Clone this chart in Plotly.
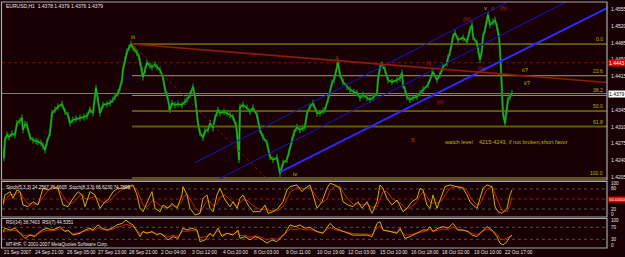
import plotly.graph_objects as go

W, H = 625, 257

# ---------------- DATA ----------------
# price (bar index, price)
px_idx = [0,1,2,4,6,9,12,14,17,19,20,22,24,27,30,33,35,38,40,42,44,47,49,52,55,59,62,65,67,70,73,77,81,84,87,90,93,95,97,100,104,107,110,112,115,117,119,120,122,124,126,128,130,132,134,136,137,139,140,142,144,147,149,152,154,157,160,162,164,166,167,169,172,175,179,182,184,187,190,192,194,195,197,200,202,205,207,210,212,214,215,217,221,224,227,230,233,234,236,237,240,244,247,250,254,257,260,264,267,270,274,277,280,284,286,289,291,294,297,300,302,304,307,310,314,317,320,322,325,329,331,334,335,337,340,344,347,351,354,357,360,364,367,370,374,375,377,379,382,385,389,394,397,399,400,402,404,407,410,414,417,420,425,429,430,434,437,440,444,445,447,450,452,455,460,464,467,469,470,474,475,477,479,480,482,484,485,487,490,492,494,495,496,497,498,499,500,502,504,505,507,509]
px_val = [1.4261,1.4245,1.4282,1.4293,1.4288,1.4295,1.4293,1.4317,1.4322,1.4328,1.4303,1.4315,1.4313,1.4288,1.4282,1.4280,1.4278,1.4276,1.4270,1.4261,1.4278,1.4297,1.4338,1.4345,1.4351,1.4357,1.4341,1.4334,1.4317,1.4324,1.4326,1.4328,1.4330,1.4332,1.4345,1.4338,1.4391,1.4366,1.4338,1.4355,1.4357,1.4359,1.4366,1.4372,1.4380,1.4391,1.4407,1.4428,1.4449,1.4466,1.4474,1.4482,1.4474,1.4470,1.4464,1.4455,1.4445,1.4428,1.4413,1.4428,1.4443,1.4437,1.4434,1.4439,1.4434,1.4428,1.4413,1.4387,1.4376,1.4349,1.4345,1.4359,1.4355,1.4357,1.4355,1.4362,1.4366,1.4376,1.4393,1.4372,1.4338,1.4317,1.4297,1.4287,1.4301,1.4303,1.4317,1.4307,1.4328,1.4338,1.4345,1.4338,1.4341,1.4338,1.4334,1.4330,1.4313,1.4297,1.4241,1.4351,1.4355,1.4349,1.4341,1.4349,1.4334,1.4303,1.4288,1.4276,1.4247,1.4241,1.4245,1.4212,1.4234,1.4241,1.4257,1.4282,1.4297,1.4309,1.4303,1.4307,1.4309,1.4338,1.4351,1.4359,1.4338,1.4338,1.4343,1.4345,1.4366,1.4401,1.4407,1.4437,1.4443,1.4418,1.4403,1.4393,1.4387,1.4382,1.4380,1.4370,1.4376,1.4370,1.4366,1.4370,1.4380,1.4407,1.4434,1.4439,1.4428,1.4407,1.4403,1.4407,1.4411,1.4422,1.4397,1.4387,1.4372,1.4366,1.4370,1.4372,1.4380,1.4387,1.4397,1.4422,1.4424,1.4407,1.4418,1.4434,1.4443,1.4453,1.4464,1.4497,1.4505,1.4491,1.4495,1.4487,1.4512,1.4522,1.4497,1.4484,1.4470,1.4449,1.4470,1.4497,1.4512,1.4532,1.4543,1.4522,1.4528,1.4532,1.4518,1.4507,1.4497,1.4470,1.4434,1.4393,1.4338,1.4317,1.4345,1.4366,1.4372,1.4380]

# oscillators (bar index, value)
st_idx = [-1,2,7,10,14,17,20,25,30,35,40,45,50,55,60,65,70,75,79,82,87,92,97,102,105,110,115,120,125,130,134,137,140,144,149,152,157,160,165,169,174,179,180,184,187,192,197,200,204,207,210,214,217,222,227,230,234,237,240,245,250,257,262,265,270,275,280,284,287,294,299,302,307,314,319,324,327,332,337,340,345,350,355,359,364,369,374,377,380,384,389,394,397,400,404,409,414,417,420,424,427,430,434,439,442,447,454,460,464,467,470,474,477,480,484,489,492,495,499,504,507,509]
st_main = [22,62,72,52,77,72,32,27,42,32,82,77,87,82,32,27,52,72,62,27,72,62,22,42,47,72,82,82,87,92,62,22,12,37,72,22,12,32,22,37,22,62,87,62,22,2,7,52,62,22,12,62,82,47,27,42,22,52,62,32,12,12,32,7,12,22,42,77,87,92,72,82,92,22,42,82,97,92,82,42,32,27,42,22,42,7,42,92,82,52,32,47,27,12,22,42,52,82,77,32,22,62,22,62,87,92,87,82,62,42,32,22,52,82,92,87,27,12,7,22,62,77]
st_sig = [30,45,65,62,67,72,55,35,35,35,55,75,82,83,60,38,38,55,65,50,52,58,45,38,40,55,70,80,84,88,78,55,32,25,45,42,30,25,25,30,28,42,55,65,50,25,10,25,45,42,30,35,55,62,45,38,30,38,48,45,30,18,20,17,14,15,28,50,70,85,82,80,85,55,38,50,75,88,88,70,50,35,35,32,35,25,28,50,72,72,52,42,38,28,20,28,42,60,72,58,40,38,38,45,62,82,88,85,75,58,45,32,35,55,78,88,65,40,15,12,32,55]

rsi_idx = [-1,2,7,12,17,22,27,32,35,39,44,49,54,57,62,65,70,77,82,87,90,95,99,104,109,114,119,123,127,130,134,137,140,144,149,154,157,162,165,170,175,180,184,189,194,197,202,207,210,215,219,224,230,235,237,242,247,252,257,264,269,274,279,282,287,292,297,302,307,314,320,327,332,337,344,350,357,364,369,374,377,380,387,394,397,402,407,414,420,424,427,430,435,440,445,450,455,460,465,469,474,479,484,489,494,497,500,504,507,509]
rsi7 = [50,67,61,67,50,33,44,39,50,61,67,61,67,72,56,61,44,50,61,67,61,78,67,61,67,78,83,94,83,78,56,39,56,50,56,44,50,39,28,39,33,67,61,67,61,22,28,50,39,67,39,50,44,61,33,39,28,39,33,17,28,22,39,50,78,72,78,67,70,56,50,83,67,61,50,44,44,44,39,83,89,61,56,50,67,33,39,50,61,61,72,56,67,72,67,83,61,61,56,44,39,56,72,61,39,17,11,22,39,44]
rsi14 = [50,58,58,60,52,42,45,43,48,55,60,58,62,65,57,58,48,52,57,62,58,68,63,60,63,70,74,80,76,72,60,48,55,52,54,47,50,44,38,43,40,58,56,60,57,35,38,48,44,58,45,50,47,56,42,43,37,42,38,28,34,30,40,47,64,62,66,61,63,55,52,70,62,59,53,49,48,48,45,68,74,60,57,53,61,44,45,51,57,58,64,56,61,64,62,72,61,60,56,49,46,54,64,60,47,32,28,34,40,42]

# levels / drawn objects
fib_names = ["0.0", "23.6", "38.2", "50.0", "61.8", "100.0"]
fib_prices = [1.4482, 1.4416, 1.4375, 1.43425, 1.4310, 1.4203]
fib_start = 129
bid_price = 1.4379
alert_price = 1.4443
trend_idx = [129, 604]
trend_price = [1.4482, 1.4402]
zig_idx = [129, 265]
zig_price = [1.4482, 1.4199]
thick_idx = [277, 604]
thick_price = [1.42154, 1.45570]
thin1_idx = [192, 504]
thin1_price = [1.42347, 1.45689]
thin2_idx = [214, 563]
thin2_price = [1.41987, 1.45695]

price_ticks = [1.4555, 1.4520, 1.4485, 1.4450, 1.4415, 1.4345, 1.4310, 1.4275, 1.4240, 1.4205]
time_labels = ["21 Sep 2007", "24 Sep 21:00", "26 Sep 05:00", "27 Sep 13:00", "28 Sep 21:00",
               "2 Oct 04:00", "3 Oct 12:00", "4 Oct 20:00", "8 Oct 03:00", "9 Oct 11:00",
               "10 Oct 19:00", "12 Oct 03:00", "15 Oct 10:00", "16 Oct 18:00", "18 Oct 02:00",
               "19 Oct 10:00", "22 Oct 17:00"]
time_label_px = [2, 33.3, 64.6, 95.9, 127.2, 158.5, 189.8, 221.1, 252.4, 283.7, 315,
                 346.3, 377.6, 408.9, 440.2, 471.5, 502.8]

wave_labels = [("iii", 130, 1.4497, "olive"), ("iv", 292, 1.4211, "olive"),
               ("A", 334, 1.4453, "red"), ("B", 410, 1.4282, "red"),
               ("(i)", 425, 1.4443, "red"), ("(ii)", 437, 1.4361, "red"),
               ("(iii)", 464, 1.4534, "red"), ("(iv)", 479, 1.4432, "red"),
               ("v", 482, 1.4557, "olive"), ("c", 489, 1.4557, "red"), ("(b)", 500, 1.4557, "red"),
               ("ii?", 522, 1.4428, "olive"), ("ii?", 524, 1.4401, "olive")]

# ---------------- STYLE ----------------
BG = "#190005"
OLIVE = "#a8a800"
OLIVE_TXT = "#b8b800"
REDTXT = "#b42a14"
FONT = "Liberation Sans"
def py(p):  # pixel y -> paper
    return 1 - p / H
def pxp(p):
    return p / W

fig = go.Figure()

# price (bar-like: whiskers + line)
fig.add_trace(go.Scatter(x=px_idx, y=px_val, mode="lines", line=dict(color="#0e800e", width=2.2),
                         error_y=dict(type="constant", value=0.0007, thickness=1.3, width=0, color="#0e8a0e"),
                         yaxis="y", hoverinfo="skip"))
fig.add_trace(go.Scatter(x=px_idx, y=px_val, mode="lines", line=dict(color="#22b822", width=1),
                         yaxis="y", hoverinfo="skip"))

# stochastics
fig.add_trace(go.Scatter(x=st_idx, y=st_sig, mode="lines", line=dict(color="#c81e0a", width=1),
                         yaxis="y2", hoverinfo="skip"))
fig.add_trace(go.Scatter(x=st_idx, y=st_main, mode="lines", line=dict(color="#c8b400", width=1),
                         yaxis="y2", hoverinfo="skip"))
# RSI
fig.add_trace(go.Scatter(x=rsi_idx, y=rsi14, mode="lines", line=dict(color="#c81e0a", width=1),
                         yaxis="y3", hoverinfo="skip"))
fig.add_trace(go.Scatter(x=rsi_idx, y=rsi7, mode="lines", line=dict(color="#c8b400", width=1),
                         yaxis="y3", hoverinfo="skip"))

# channel / trend lines
fig.add_trace(go.Scatter(x=thin1_idx, y=thin1_price, mode="lines", line=dict(color="#1414c8", width=1), yaxis="y", hoverinfo="skip"))
fig.add_trace(go.Scatter(x=thin2_idx, y=thin2_price, mode="lines", line=dict(color="#1414c8", width=1), yaxis="y", hoverinfo="skip"))
fig.add_trace(go.Scatter(x=thick_idx, y=thick_price, mode="lines", line=dict(color="#2a2aff", width=2), yaxis="y", hoverinfo="skip"))
fig.add_trace(go.Scatter(x=trend_idx, y=trend_price, mode="lines", line=dict(color="#8c1c08", width=1.6), yaxis="y", hoverinfo="skip"))
fig.add_trace(go.Scatter(x=zig_idx, y=zig_price, mode="lines", line=dict(color="#7a1206", width=1, dash="dot"), yaxis="y", hoverinfo="skip"))

shapes = []
# fib lines
for name, p in zip(fib_names, fib_prices):
    col = "#5e5e00" if name == "61.8" else OLIVE
    wid = 2 if name == "61.8" else 1
    shapes.append(dict(type="line", xref="x", yref="y", x0=fib_start, x1=604, y0=p, y1=p,
                       line=dict(color=col, width=wid), layer="below"))
# bid & alert lines
shapes.append(dict(type="line", xref="paper", yref="y", x0=pxp(2), x1=pxp(607), y0=bid_price, y1=bid_price,
                   line=dict(color="#7a7a7a", width=1), layer="below"))
shapes.append(dict(type="line", xref="paper", yref="y", x0=pxp(2), x1=pxp(607), y0=alert_price, y1=alert_price,
                   line=dict(color="#7c1010", width=1, dash="dot"), layer="below"))
# oscillator levels
for v, c in [(80, "#505050"), (50, "#a01010"), (20, "#505050")]:
    shapes.append(dict(type="line", xref="paper", yref="y2", x0=pxp(2), x1=pxp(607), y0=v, y1=v,
                       line=dict(color=c, width=1, dash="dot"), layer="below"))
for v in [70, 30]:
    shapes.append(dict(type="line", xref="paper", yref="y3", x0=pxp(2), x1=pxp(607), y0=v, y1=v,
                       line=dict(color="#505050", width=1, dash="dot"), layer="below"))
# panel frames
for top, bot in [(2, 180), (181.5, 217), (218.5, 248)]:
    shapes.append(dict(type="rect", xref="paper", yref="paper", x0=pxp(1.5), x1=pxp(607),
                       y0=py(bot), y1=py(top), line=dict(color="#a8a8a8", width=1.2)))

ann = []
def txt(x, y, s, color="#e6e6e6", size=5, xref="paper", yref="paper", xanchor="left", **kw):
    ann.append(dict(x=x, y=y, xref=xref, yref=yref, text=s, showarrow=False, xanchor=xanchor,
                    yanchor="middle", font=dict(family=FONT, size=size, color=color), **kw))

# price scale labels
for p in price_ticks:
    txt(pxp(609), p, f"{p:.4f}", yref="y")
txt(pxp(608), bid_price, "1.4379", color="#000000", yref="y", bgcolor="#ffffff", borderpad=0)
txt(pxp(608), alert_price, "1.4443", color="#ffffff", yref="y", bgcolor="#e00000", borderpad=0)
# fib labels
for name, p in zip(fib_names, fib_prices):
    ann.append(dict(x=602, y=p, xref="x", yref="y", text=name, showarrow=False, xanchor="right",
                    yanchor="bottom", font=dict(family=FONT, size=5, color=OLIVE_TXT)))
# oscillator scales
for v, s in [(96, "100"), (80, "80"), (20, "20"), (4, "0")]:
    txt(pxp(609), v, s, yref="y2", size=4.6)
txt(pxp(607.5), 50, "50.0000", color="#ffffff", yref="y2", bgcolor="#e00000", borderpad=0, size=4.4)
for v, s in [(92, "100"), (70, "70"), (30, "30"), (9, "0")]:
    txt(pxp(609), v, s, yref="y3", size=4.6)

# headers
txt(pxp(4), py(5.5), "EURUSD,H1  1.4378 1.4379 1.4376 1.4379", size=5)
txt(pxp(4), py(187), "Stoch(5,3,3) 24.2567 71.6605  Stoch(8,3,3) 66.6230 74.7899", size=4.6)
txt(pxp(4), py(222), "RSI(14) 38.7403  RSI(7) 44.5351", size=4.6)
txt(pxp(4), py(244), "MT4HF, © 2001-2007 MetaQuotes Software Corp.", size=4.6)

# time axis labels
for xp, s in zip(time_label_px, time_labels):
    txt(pxp(xp), py(252.5), s, size=4.8)

# wave labels
for s, i, p, c in wave_labels:
    col = OLIVE_TXT if c == "olive" else REDTXT
    ann.append(dict(x=i, y=p, xref="x", yref="y", text=s, showarrow=False, xanchor="center",
                    yanchor="middle", font=dict(family=FONT, size=6, color=col)))
ann.append(dict(x=439, y=1.4278, xref="x", yref="y",
                text="watch level    4215-4243, if not broken,short favor", showarrow=False,
                xanchor="left", yanchor="middle", font=dict(family=FONT, size=5.6, color=OLIVE_TXT)))

fig.update_layout(
    width=W, height=H, margin=dict(l=0, r=0, t=0, b=0),
    paper_bgcolor=BG, plot_bgcolor=BG, showlegend=False,
    xaxis=dict(domain=[pxp(3), pxp(607)], range=[0, 604], visible=False, fixedrange=True),
    yaxis=dict(domain=[py(180), py(2)], range=[1.41988, 1.45696], visible=False, anchor="x"),
    yaxis2=dict(domain=[py(215.7), py(182.3)], range=[0, 100], visible=False, anchor="x"),
    yaxis3=dict(domain=[py(248.3), py(218.3)], range=[0, 100], visible=False, anchor="x"),
    shapes=shapes, annotations=ann,
)
fig.write_html("out.html")
